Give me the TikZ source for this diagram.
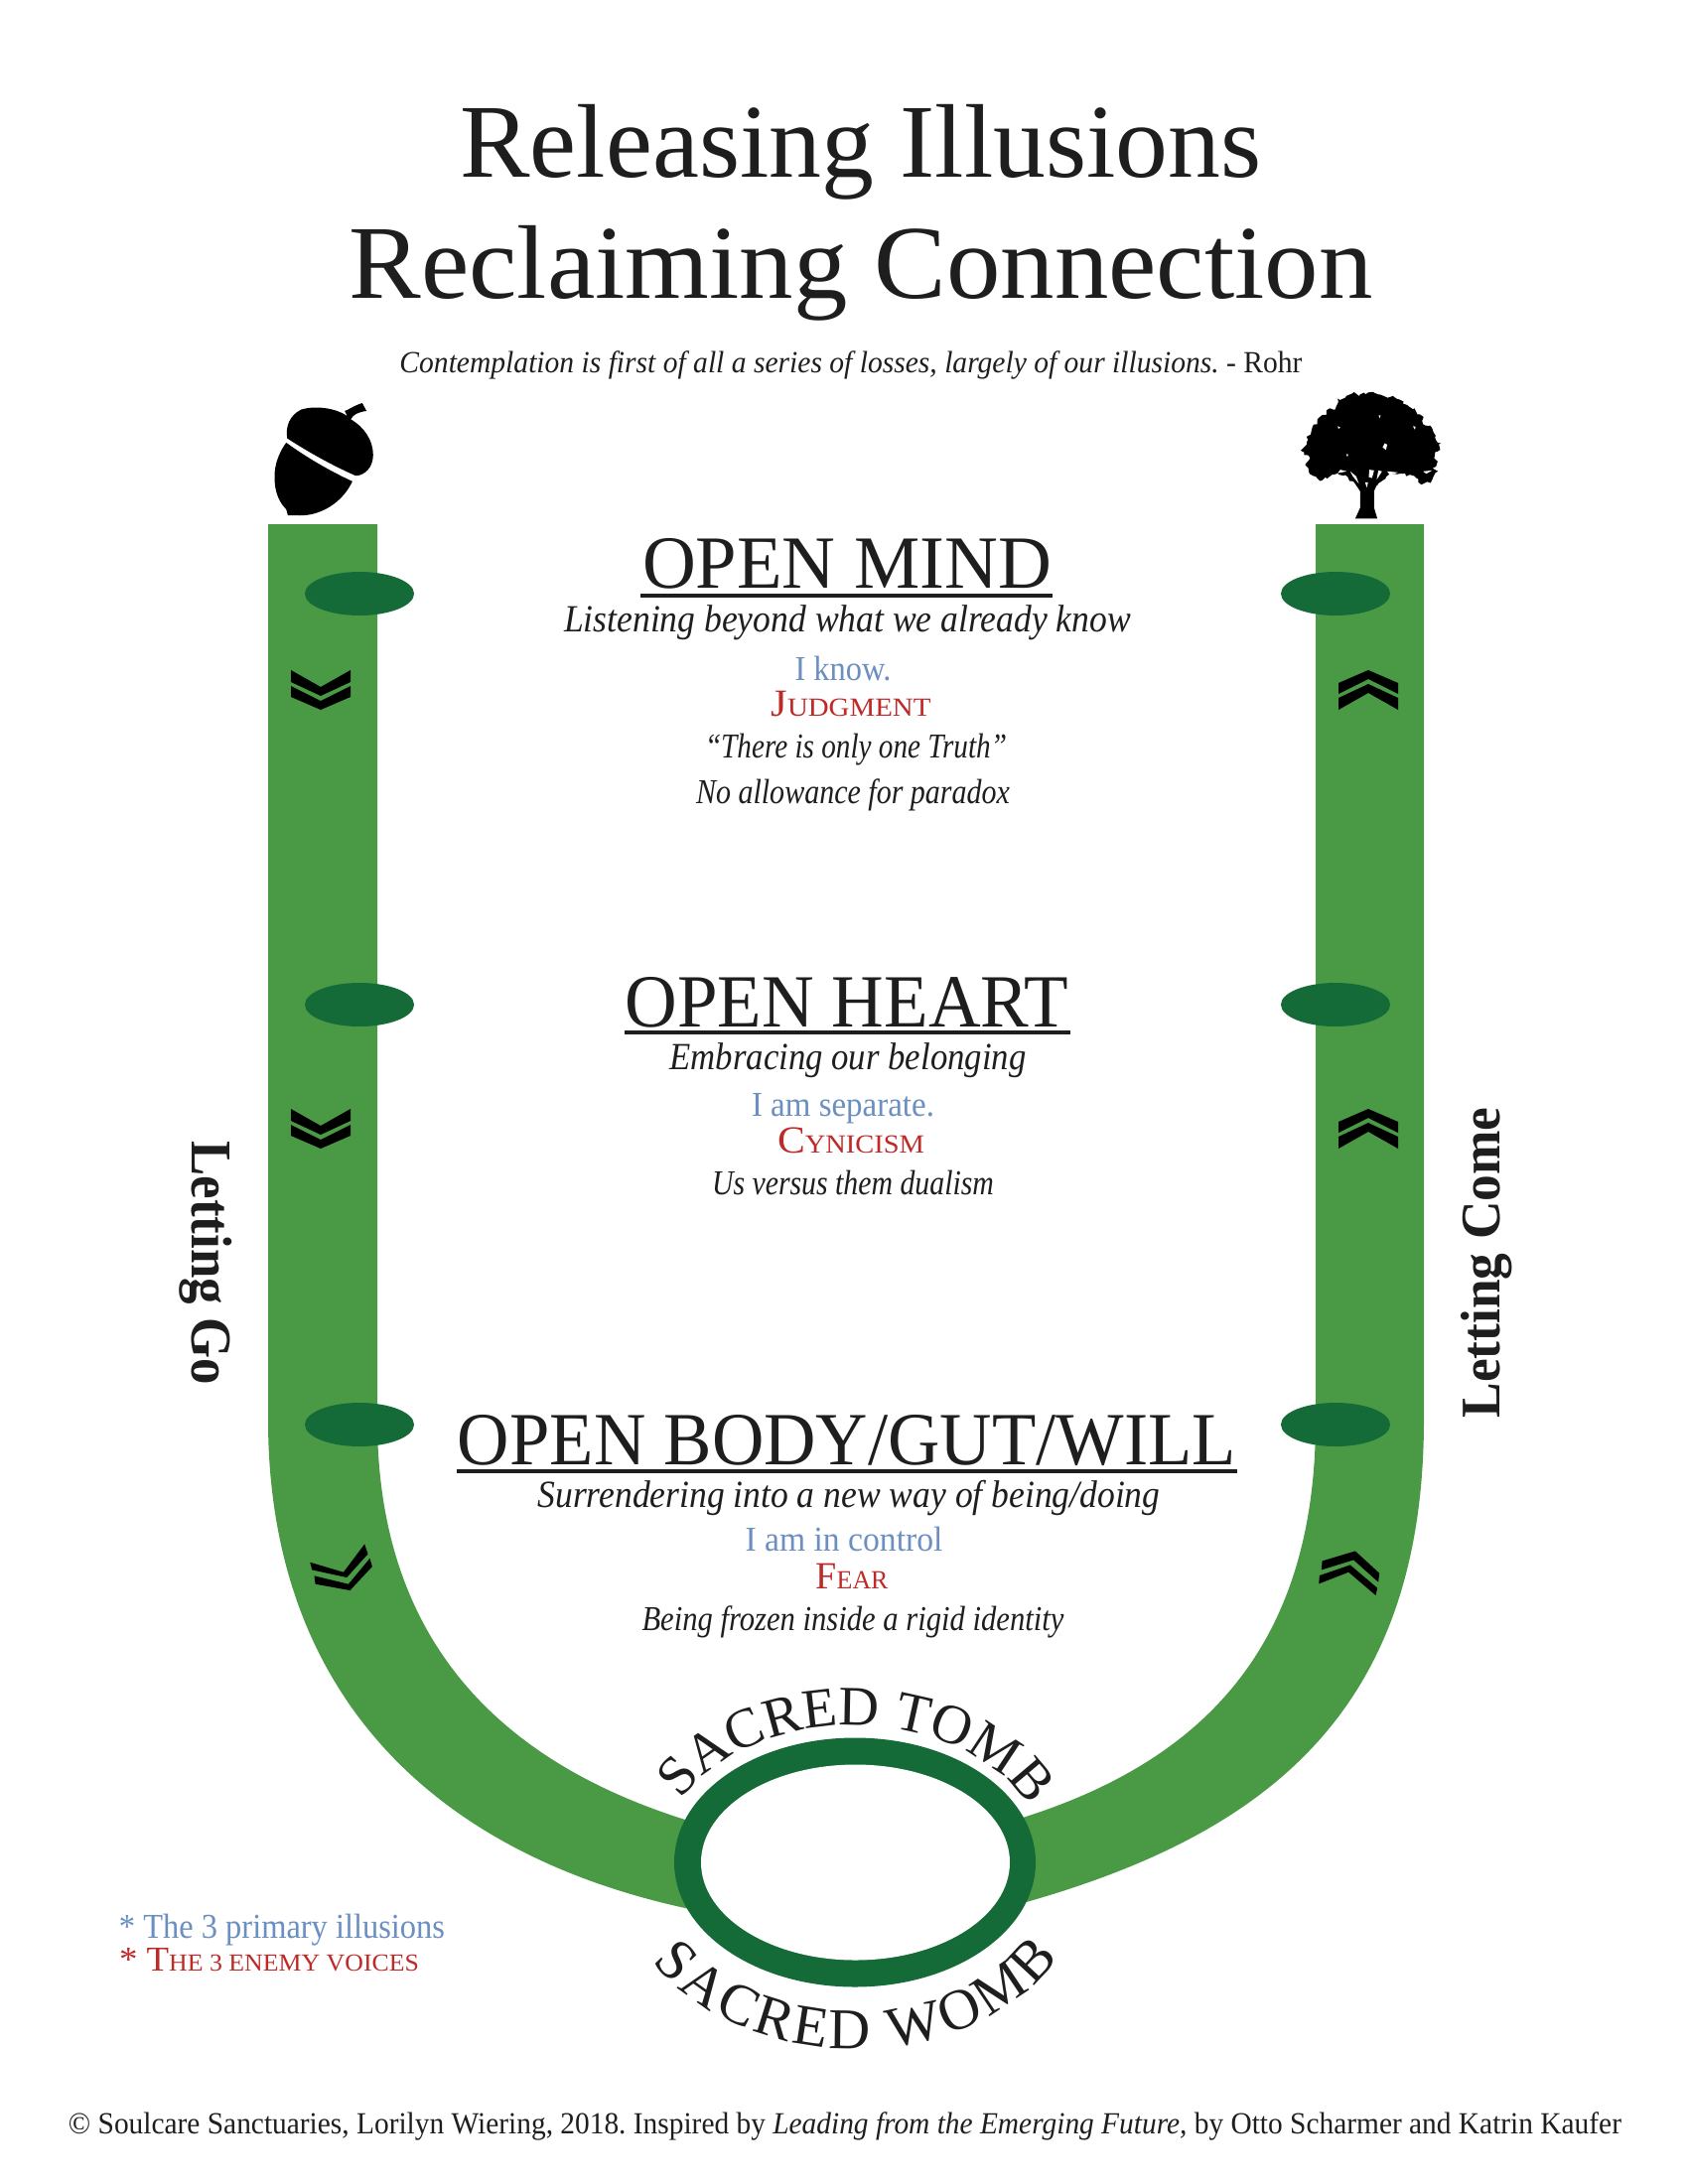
\documentclass[tikz,border=0pt]{standalone}
\usepackage{fontspec}
\usepackage{graphicx}
\setmainfont{Liberation Serif}
\usetikzlibrary{decorations.text,decorations.pathmorphing}
\definecolor{bandgreen}{HTML}{4A9A45}
\definecolor{darkgreen}{HTML}{156B37}
\definecolor{illusionblue}{HTML}{6B8FC0}
\definecolor{voicered}{HTML}{BE2A28}
\definecolor{inkblack}{HTML}{1E1E1E}
\newdimen\pxu \pxu=0.01cm
\frenchspacing
\newcommand\tw[2]{\resizebox{#1\pxu}{\height}{#2}}
\newcommand\fz[1]{\fontsize{#1}{#1}\selectfont}
\newcommand\capsm[4]{{\fz{#1}#3}{\fz{#2}#4}}
\tikzset{
  lbl/.style={inner sep=0pt,outer sep=0pt,anchor=base,text=inkblack},
  blue/.style={lbl,text=illusionblue},
  red/.style={lbl,text=voicered},
  hrule/.style={draw=inkblack,line width=1pt},
  band/.style={fill=bandgreen},
  oval/.style={fill=darkgreen},
  chev/.style={fill=black}
}
\begin{document}
\begin{tikzpicture}[x=0.01cm,y=-0.01cm]
\useasboundingbox (0,0) rectangle (1700,2200);
\fill[white] (0,0) rectangle (1700,2200);
% --- titles
\node[lbl] (title1) at (867,178) {\tw{807}{\fz{30}Releasing Illusions}};
\node[lbl] (title2) at (867,300) {\tw{1031}{\fz{30}Reclaiming Connection}};
\node[lbl] (subtitle) at (857,375) {\tw{909}{\fz{8.8}\textit{Contemplation is first of all a series of losses, largely of our illusions.} - Rohr}};
% --- U band
\fill[band] (270,528) -- (270,1430) .. controls (270,1700) and (430,1865) .. (690,1922) -- (730,1932) -- (730,1843) -- (690,1833)
   .. controls (490,1770) and (380,1640) .. (380,1430) -- (380,528) -- cycle;
\fill[band] (1434,528) -- (1434,1430) .. controls (1434,1720) and (1280,1845) .. (1037,1915) -- (1000,1925) -- (1000,1840) -- (1033,1830)
   .. controls (1220,1770) and (1325,1650) .. (1325,1430) -- (1325,528) -- cycle;
% --- ovals
\foreach \yy in {598,1012,1435}{
  \fill[oval] (362,\yy) ellipse [x radius=55,y radius=22];
  \fill[oval] (1345,\yy) ellipse [x radius=55,y radius=22];
}
% --- chevrons, straight
\foreach \yy in {695,1137}{
  \begin{scope}[shift={(323,\yy)}]
    \fill[chev] (-30,-20) -- (0,-3) -- (30,-20) -- (30,-8) -- (0,6) -- (-30,-8) -- cycle;
    \fill[chev] (-30,-4) -- (0,11) -- (30,-4) -- (30,7) -- (0,20) -- (-30,7) -- cycle;
  \end{scope}
  \begin{scope}[shift={(1378,\yy)}]
    \fill[chev] (-30,20) -- (0,3) -- (30,20) -- (30,8) -- (0,-6) -- (-30,8) -- cycle;
    \fill[chev] (-30,4) -- (0,-11) -- (30,4) -- (30,-7) -- (0,-20) -- (-30,-7) -- cycle;
  \end{scope}
}
% --- chevrons, tilted
\begin{scope}[shift={(270,1400)},x=0.003333cm,y=-0.003333cm]
  \fill[chev] (127,522) -- (228,552) -- (292,467) -- (302,497) -- (238,568) -- (133,545) -- cycle;
  \fill[chev] (140,563) -- (243,588) -- (308,510) -- (315,535) -- (248,607) -- (143,588) -- cycle;
\end{scope}
\begin{scope}[shift={(1270,1400)},x=0.003333cm,y=-0.003333cm]
  \fill[chev] (185,518) -- (285,488) -- (358,555) -- (355,582) -- (280,515) -- (183,545) -- cycle;
  \fill[chev] (177,562) -- (270,530) -- (352,600) -- (347,622) -- (265,552) -- (175,587) -- cycle;
\end{scope}
% --- acorn
\begin{scope}[shift={(250,390)},x=0.003333cm,y=-0.003333cm]
  \fill[black] (118,155) .. controls (112,120) and (125,85) .. (160,68) .. controls (200,55) and (265,62) .. (300,88)
    -- (292,72) .. controls (305,68) and (315,58) .. (345,48) -- (358,72) .. controls (335,75) and (318,82) .. (310,97)
    .. controls (350,120) and (378,160) .. (378,205) .. controls (378,245) and (350,268) .. (325,268)
    .. controls (250,235) and (180,195) .. (118,155) -- cycle;
  \fill[black] (115,168) .. controls (180,215) and (250,255) .. (315,285) .. controls (295,330) and (250,372) .. (190,385)
    .. controls (165,390) and (145,388) .. (132,388) -- (120,388) -- (115,370) .. controls (85,340) and (78,300) .. (80,260)
    .. controls (82,225) and (98,190) .. (115,168) -- cycle;
\end{scope}
% --- tree
\begin{scope}[shift={(1260,380)},x=0.003333cm,y=-0.003333cm]
  \pgfmathsetseed{42}
  \fill[black,decorate,decoration={random steps,segment length=0.9pt,amplitude=0.55pt}] (150,222) -- (160,212) -- (172,190) -- (168,180) -- (182,165) -- (185,152) -- (200,142) -- (208,120) -- (228,114) -- (228,100) -- (255,97) -- (264,75) -- (262,65) -- (285,62) -- (305,50) -- (330,52) -- (355,46) -- (385,52) -- (420,60) -- (450,68) -- (472,84) -- (494,94) -- (503,112) -- (522,120) -- (520,142) -- (543,147) -- (552,167) -- (559,190) -- (574,200) -- (564,225) -- (554,245) -- (562,262) -- (549,275) -- (566,285) -- (552,300) -- (543,320) -- (515,325) -- (500,305) -- (480,295) -- (450,292) -- (410,300) -- (385,325) -- (330,345) -- (310,315) -- (280,298) -- (250,295) -- (225,303) -- (215,312) -- (195,300) -- (178,293) -- (173,275) -- (165,262) -- (178,245) -- (160,235) -- cycle;
  \fill[black] (385,315) -- (372,345) -- (372,395) -- (382,428) -- (315,428) -- (330,395) -- (330,345) -- (310,315) -- cycle;
  \fill[white] (300,285) -- (318,300) -- (326,322) -- (308,300) -- cycle;
  \fill[white] (358,280) -- (372,282) -- (366,305) -- (356,302) -- cycle;
  \fill[white] (345,318) -- (354,318) -- (350,334) -- cycle;
  \fill[white] (385,282) -- (396,285) -- (380,310) -- cycle;
  \fill[white] (420,296) -- (445,288) -- (412,285) -- cycle;
  \fill[white] (262,290) -- (290,285) -- (270,280) -- cycle;
  \fill[white] (404,200) -- (412,204) -- (408,220) -- (398,212) -- cycle;
  \fill[white] (386,115) -- (392,115) -- (389,124) -- cycle;
  \fill[white] (288,232) -- (294,234) -- (291,241) -- cycle;
  \fill[white] (490,148) -- (498,150) -- (495,158) -- cycle;
  \fill[white] (262,148) -- (270,152) -- (264,156) -- cycle;
  \fill[white] (520,285) -- (548,282) -- (530,292) -- cycle;
\end{scope}
% --- ring
\fill[darkgreen] (861,1876) ellipse [x radius=182,y radius=125.5];
\fill[white] (861.5,1876) ellipse [x radius=155.5,y radius=98.5];
% --- curved labels
\path[decorate,decoration={text along path,text align={fit to path},text color=inkblack,
   text={|\fz{16}|SACRED TOMB}}]
   plot[domain=153:27,samples=80] ({859+194*cos(\x)},{1876-138*sin(\x)});
\path[decorate,decoration={text along path,text align={fit to path},text color=inkblack,
   text={|\fz{16.5}|SACRED WOMB}}]
   plot[domain=212:329,samples=80] ({861+240*cos(\x)},{1876-188*sin(\x)});
% --- open mind
\node[lbl] (mindh) at (853,592) {\tw{412}{\fz{21.5}OPEN MIND}};
\draw[hrule] (645,600) -- (1060,600);
\node[lbl] (minds) at (853.5,636) {\tw{571}{\fz{11}\itshape Listening beyond what we already know}};
\node[blue] (mindb) at (849,685) {\tw{97}{\fz{10}I know.}};
\node[red] (mindr) at (857,721) {\tw{161}{\capsm{11}{7.5}{J}{UDGMENT}}};
\node[lbl] (mindq) at (862,763) {\tw{304}{\fz{10}\itshape “There is only one Truth”}};
\node[lbl] (mindp) at (859,809) {\tw{316}{\fz{10}\itshape No allowance for paradox}};
% --- open heart
\node[lbl] (hearth) at (853,1034) {\tw{447}{\fz{21.5}OPEN HEART}};
\draw[hrule] (629,1040) -- (1078,1040);
\node[lbl] (hearts) at (854,1077) {\tw{359}{\fz{11}\itshape Embracing our belonging}};
\node[blue] (heartb) at (849,1124) {\tw{184}{\fz{10}I am separate.}};
\node[red] (heartr) at (857,1161) {\tw{148}{\capsm{11}{7.5}{C}{YNICISM}}};
\node[lbl] (heartq) at (859,1203) {\tw{284}{\fz{10}\itshape Us versus them dualism}};
% --- open body
\node[lbl] (bodyh) at (853,1475) {\tw{784}{\fz{21.5}OPEN BODY/GUT/WILL}};
\draw[hrule] (460,1482) -- (1246,1482);
\node[lbl] (bodys) at (855,1518) {\tw{627}{\fz{11}\itshape Surrendering into a new way of being/doing}};
\node[blue] (bodyb) at (850,1562) {\tw{199}{\fz{10}I am in control}};
\node[red] (bodyr) at (858,1600) {\tw{73}{\capsm{11}{7.5}{F}{EAR}}};
\node[lbl] (bodyq) at (859,1642) {\tw{425}{\fz{10}\itshape Being frozen inside a rigid identity}};
% --- side labels
\node[lbl,rotate=-90] (lgo) at (193,1272) {\tw{245}{\fz{16.5}\bfseries Letting Go}};
\node[lbl,rotate=90] (lcome) at (1510,1272) {\tw{313}{\fz{16}\bfseries Letting Come}};
% --- legend
\node[blue,anchor=base west] (leg1) at (120,1952) {\tw{328}{\fz{10}* The 3 primary illusions}};
\node[red,anchor=base west] (leg2) at (120,1985) {\tw{302}{\capsm{10}{7}{* T}{HE 3 ENEMY VOICES}}};
% --- footer
\node[lbl] (foot) at (851,2149) {\tw{1564}{\fz{8.8}© Soulcare Sanctuaries, Lorilyn Wiering, 2018. Inspired by \textit{Leading from the Emerging Future,} by Otto Scharmer and Katrin Kaufer}};
\end{tikzpicture}
\end{document}
